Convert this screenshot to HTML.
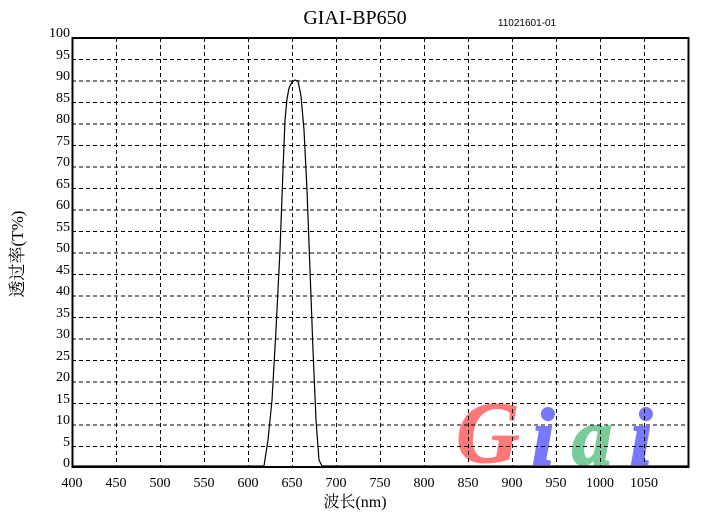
<!DOCTYPE html>
<html><head><meta charset="utf-8"><style>body{margin:0;background:#fff}svg{display:block}</style></head>
<body>
<svg width="715" height="515" xmlns="http://www.w3.org/2000/svg" font-family="Liberation Serif, Noto Serif CJK SC, serif">
<rect width="715" height="515" fill="#fff"/>
<g font-style="italic" font-weight="bold" font-size="80">
<text x="456" y="462" fill="#f77" font-size="88" stroke="#f77" stroke-width="1">G</text>
<text x="532" y="464" fill="#77f" stroke="#77f" stroke-width="2">i</text>
<text x="572" y="464" fill="#7c9" stroke="#7c9" stroke-width="2">a</text>
<text x="630" y="464" fill="#77f" stroke="#77f" stroke-width="2">i</text>
</g>
<g stroke="#000" stroke-width="1" stroke-dasharray="4,3">
<path d="M116.5 38V467M160.5 38V467M204.5 38V467M248.5 38V467M292.5 38V467M336.5 38V467M380.5 38V467M424.5 38V467M468.5 38V467M512.5 38V467M556.5 38V467M600.5 38V467M644.5 38V467"/>
<path d="M72 59.5H688M72 81H688M72 102.5H688M72 124H688M72 145.5H688M72 167H688M72 188.5H688M72 210H688M72 231.5H688M72 253H688M72 274.5H688M72 296H688M72 317.5H688M72 339H688M72 360.5H688M72 382H688M72 403.5H688M72 425H688M72 446.5H688"/>
</g>
<rect x="72.5" y="38" width="616" height="429" fill="none" stroke="#000" stroke-width="2"/>
<path d="M73 466H264L268 440L272 400L276 330L280 250L283 170L285 120L287 99L289 88L292 82L295 80L298 81L301 96L304 130L307 190L310 270L313 350L316 420L319 460L322 466H688" fill="none" stroke="#000" stroke-width="1.2"/>
<text x="355" y="24" font-size="20" text-anchor="middle">GIAI-BP650</text>
<text x="527" y="26" font-size="10" text-anchor="middle" font-family="Liberation Sans, sans-serif">11021601-01</text>
<g font-size="14" text-anchor="end">
<text x="70" y="37">100</text><text x="70" y="59">95</text><text x="70" y="80">90</text><text x="70" y="102">85</text><text x="70" y="123">80</text><text x="70" y="145">75</text><text x="70" y="166">70</text><text x="70" y="188">65</text><text x="70" y="209">60</text><text x="70" y="231">55</text><text x="70" y="252">50</text><text x="70" y="274">45</text><text x="70" y="295">40</text><text x="70" y="317">35</text><text x="70" y="338">30</text><text x="70" y="360">25</text><text x="70" y="381">20</text><text x="70" y="403">15</text><text x="70" y="424">10</text><text x="70" y="446">5</text><text x="70" y="467">0</text>
</g>
<g font-size="14" text-anchor="middle">
<text x="72" y="487">400</text><text x="116" y="487">450</text><text x="160" y="487">500</text><text x="204" y="487">550</text><text x="248" y="487">600</text><text x="292" y="487">650</text><text x="336" y="487">700</text><text x="380" y="487">750</text><text x="424" y="487">800</text><text x="468" y="487">850</text><text x="512" y="487">900</text><text x="556" y="487">950</text><text x="600" y="487">1000</text><text x="644" y="487">1050</text>
</g>
<text x="355" y="507" font-size="16" text-anchor="middle">波长(nm)</text>
<text transform="translate(23,254) rotate(-90)" font-size="17" text-anchor="middle">透过率(T%)</text>
</svg>
</body></html>
